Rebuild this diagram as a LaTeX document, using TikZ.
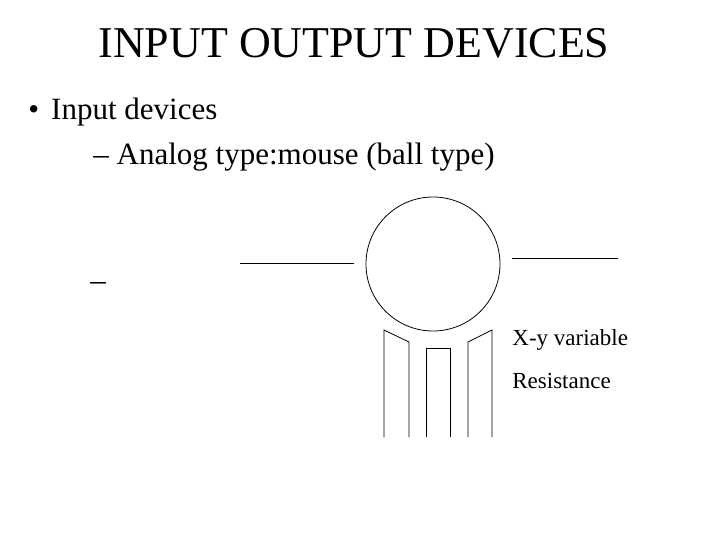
\documentclass[tikz,border=0pt]{standalone}
\usepackage{fontspec}
\setmainfont{Liberation Serif}
\begin{document}
\begin{tikzpicture}[x=1pt,y=-1pt,line width=0.8pt,
  txt/.style={anchor=base west,inner sep=0pt},
  lbl/.style={anchor=base west,inner sep=0pt,font=\fontsize{23}{27}\selectfont}]
\useasboundingbox (0,0) rectangle (720,540);
\node[inner sep=0pt,anchor=base,font=\fontsize{44}{52}\selectfont] (title) at (354,58) {INPUT OUTPUT DEVICES};
\node[txt,font=\fontsize{31}{37}\selectfont] (b1) at (28,120) {•\hspace{12pt}Input devices};
\node[txt,font=\fontsize{31}{37}\selectfont] (b2) at (93,165) {– Analog type:mouse (ball type)};
\node[txt,font=\fontsize{31}{37}\selectfont] (b3) at (90,290) {–};
\node[draw,circle,minimum size=134pt,inner sep=0pt] (ball) at (433,264) {};
\coordinate (l1) at (240,263); \coordinate (l2) at (354,263);
\draw (l1) -- (l2);
\coordinate (r1) at (512,258); \coordinate (r2) at (618,258);
\draw (r1) -- (r2);
\draw (384,437) -- (384,330) -- (409,342) -- (409,437);
\draw (426,437) -- (426,348) -- (450,348) -- (450,437);
\draw (468,437) -- (468,342) -- (492,330) -- (492,437);
\node[lbl] (xy) at (512,345) {X-y variable};
\node[lbl] (res) at (512,388) {Resistance};
\end{tikzpicture}
\end{document}
